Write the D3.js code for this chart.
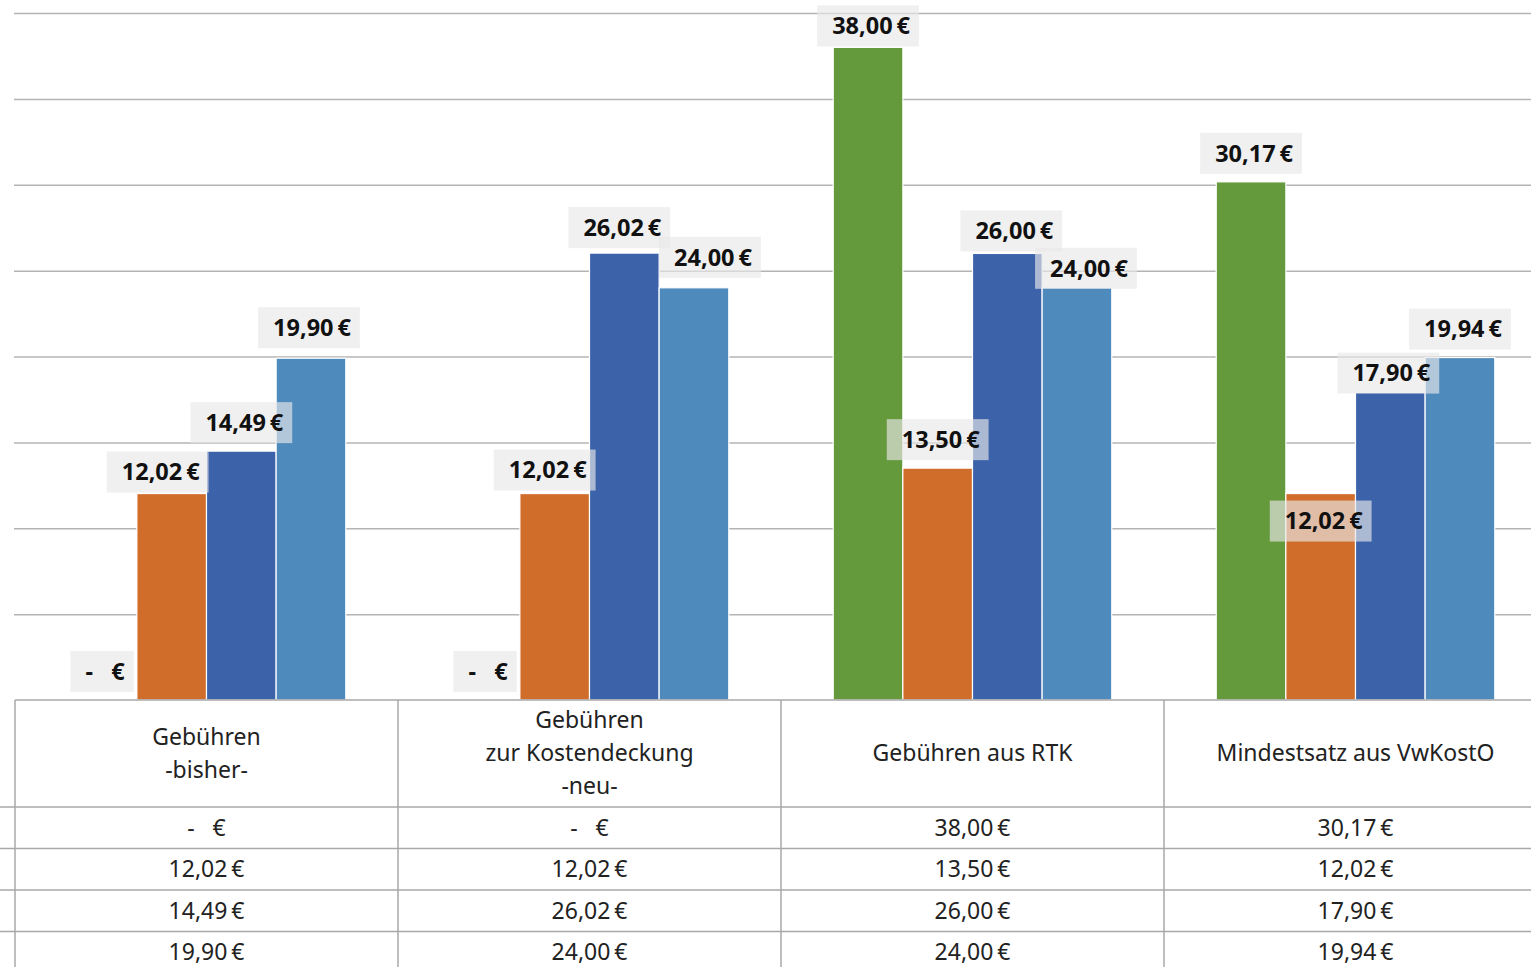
<!DOCTYPE html>
<html>
<head>
<meta charset="utf-8">
<script src="https://cdn.jsdelivr.net/npm/d3@7"></script>
<style>
  body { margin: 0; background: #fff; }
  svg { display: block; font-family: "Noto Sans", sans-serif; }
  .lbl { white-space: pre; }
</style>
</head>
<body>
<svg id="chart" width="1531" height="967"></svg>
<script>
// Categories (header lines of the data table)
var categories = [
    ["Gebühren", "-bisher-"],
    ["Gebühren", "zur Kostendeckung", "-neu-"],
    ["Gebühren aus RTK"],
    ["Mindestsatz aus VwKostO"]
];

// Series values, one entry per category
var seriesGreen  = [0, 0, 38.00, 30.17];
var seriesOrange = [12.02, 12.02, 13.50, 12.02];
var seriesDark   = [14.49, 26.02, 26.00, 17.90];
var seriesLight  = [19.90, 24.00, 24.00, 19.94];

var yTicks = [0, 5, 10, 15, 20, 25, 30, 35, 40];

var series = [seriesGreen, seriesOrange, seriesDark, seriesLight];
var colors = ["#64993c", "#d16d2b", "#3c63aa", "#4e8abc"];

// Hand-placed data label nudges (dx, dy) as in the original chart
var labelNudge = [
    [[0, 0], [0, 0], [0, 7], [0, 0]],
    [[-14, 7], [-10, 5], [0, 0], [0, 56]],
    [[0, 0], [-5, 3], [4, 6], [-2, 9]],
    [[-2, -2], [16, -2], [9, 9], [0, 0]]
];

var svg = d3.select("#chart");

var plotLeft = 15, groupW = 383;
var baseY = 700, topY = 13;

var x = d3.scaleBand()
    .domain(d3.range(categories.length))
    .range([plotLeft, plotLeft + groupW * categories.length]);

var xs = d3.scaleBand()
    .domain(d3.range(series.length))
    .range([0, x.bandwidth()])
    .paddingOuter(0.75);

var y = d3.scaleLinear().domain([0, 40]).range([baseY, topY]);

// German accounting style: "12,02 €", zero as "-  €"
var fmt = function (v) {
    if (v === 0) return "-   €";
    return v.toFixed(2).replace(".", ",") + "\u2009€";
};

// Gridlines
var grid = svg.append("g")
    .attr("transform", "translate(" + (plotLeft - 1) + ",0)")
    .call(d3.axisLeft(y).tickValues(yTicks.slice(1)).tickSize(-(1531 - plotLeft + 1)).tickFormat(""));
grid.select(".domain").remove();
grid.selectAll("line").attr("stroke", "#b4b4b4").attr("stroke-width", 1.5);

// Bars
series.forEach(function (vals, si) {
    svg.append("g").selectAll("rect")
        .data(vals)
      .enter().append("rect")
        .attr("x", function (d, ci) { return x(ci) + xs(si); })
        .attr("y", function (d) { return y(d); })
        .attr("width", xs.bandwidth())
        .attr("height", function (d) { return y(0) - y(d); })
        .attr("fill", colors[si])
        .attr("stroke", "#fff")
        .attr("stroke-width", 1.2);
});

// Data table
var tableG = svg.append("g");
var rowY = [807, 848.5, 890, 931.5, 973];
var lineColor = "#a9a9a9";

tableG.append("line")
    .attr("x1", plotLeft).attr("x2", 1531)
    .attr("y1", baseY).attr("y2", baseY)
    .attr("stroke", lineColor).attr("stroke-width", 1.5);

rowY.forEach(function (ry) {
    tableG.append("line")
        .attr("x1", 0).attr("x2", 1531)
        .attr("y1", ry).attr("y2", ry)
        .attr("stroke", lineColor).attr("stroke-width", 1.5);
});

d3.range(categories.length + 1).forEach(function (ci) {
    var xx = plotLeft + ci * groupW;
    tableG.append("line")
        .attr("x1", xx).attr("x2", xx)
        .attr("y1", baseY).attr("y2", 967)
        .attr("stroke", lineColor).attr("stroke-width", 1.5);
});

// Header text
categories.forEach(function (lines, ci) {
    var cx = x(ci) + x.bandwidth() / 2;
    var t = tableG.append("text")
        .attr("text-anchor", "middle")
        .attr("font-size", 23)
        .attr("fill", "#222");
    lines.forEach(function (ln, li) {
        t.append("tspan")
            .attr("x", cx)
            .attr("y", 753 + (li - (lines.length - 1) / 2) * 33)
            .attr("dy", "0.35em")
            .text(ln);
    });
});

// Value rows
series.forEach(function (vals, si) {
    var cy = (rowY[si] + rowY[si + 1]) / 2;
    vals.forEach(function (v, ci) {
        tableG.append("text")
            .attr("class", "lbl")
            .attr("x", x(ci) + x.bandwidth() / 2)
            .attr("y", cy)
            .attr("dy", "0.35em")
            .attr("text-anchor", "middle")
            .attr("font-size", 23)
            .attr("fill", "#222")
            .text(fmt(v));
    });
});

// Data labels
var labelG = svg.append("g");
series.forEach(function (vals, si) {
    vals.forEach(function (v, ci) {
        var nudge = labelNudge[si][ci];
        var cx = x(ci) + xs(si) + xs.bandwidth() / 2 + nudge[0];
        var bottom = y(v) - 8 + nudge[1];
        var g = labelG.append("g");
        var rect = g.append("rect")
            .attr("fill", "#e8e8e8")
            .attr("fill-opacity", 0.65);
        var t = g.append("text")
            .attr("class", "lbl")
            .attr("x", cx + 3)
            .attr("y", bottom - 20.5)
            .attr("dy", "0.35em")
            .attr("text-anchor", "middle")
            .attr("font-size", 23.5)
            .attr("font-weight", "bold")
            .attr("fill", "#111")
            .text(fmt(v));
        var w = t.node().getComputedTextLength() + 24;
        rect.attr("x", cx - w / 2)
            .attr("y", bottom - 41)
            .attr("width", w)
            .attr("height", 41);
    });
});
</script>
</body>
</html>
